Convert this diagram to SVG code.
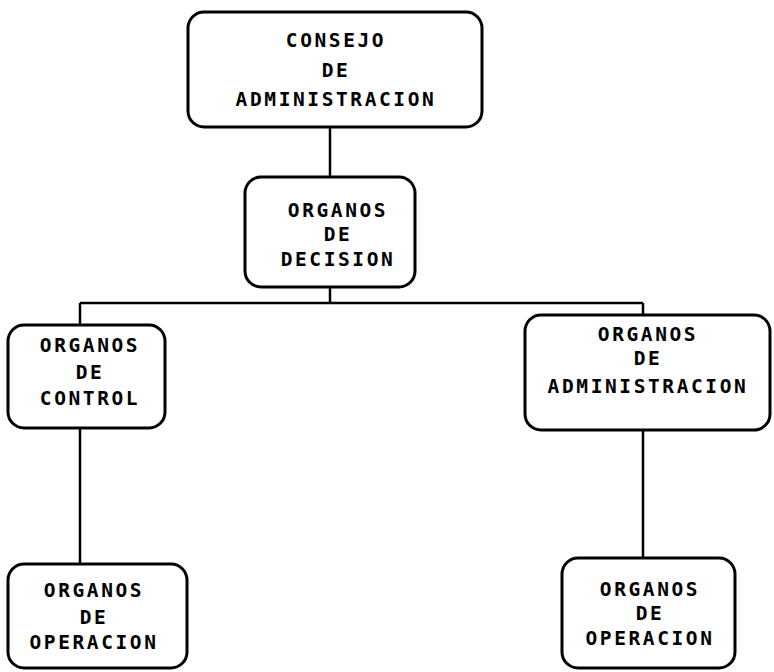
<svg xmlns="http://www.w3.org/2000/svg" width="774" height="672" viewBox="0 0 774 672">
<style>
.box{fill:#fff;stroke:#000;stroke-width:3}
.ln{stroke:#000;stroke-width:2.5;fill:none}
text{font-family:"DejaVu Sans Mono","Liberation Mono",monospace;font-weight:bold;font-size:19.5px;letter-spacing:2.6px;text-anchor:middle;fill:#000}
</style>
<rect width="774" height="672" fill="#fff"/>
<g id="connectors">
<line class="ln" x1="330" y1="127" x2="330" y2="177"/>
<line class="ln" x1="330" y1="287" x2="330" y2="303"/>
<line class="ln" x1="80" y1="303" x2="643" y2="303"/>
<line class="ln" x1="80" y1="303" x2="80" y2="325"/>
<line class="ln" x1="643" y1="303" x2="643" y2="315"/>
<line class="ln" x1="80" y1="428" x2="80" y2="564"/>
<line class="ln" x1="643" y1="430" x2="643" y2="558"/>
</g>
<g id="consejo">
<rect class="box" x="188" y="12" width="294" height="115" rx="16"/>
<text x="336" y="47">CONSEJO</text>
<text x="336" y="77">DE</text>
<text x="336" y="106">ADMINISTRACION</text>
</g>
<g id="decision">
<rect class="box" x="245" y="177" width="170" height="110" rx="16"/>
<text x="338" y="217">ORGANOS</text>
<text x="338" y="241">DE</text>
<text x="338" y="266">DECISION</text>
</g>
<g id="control">
<rect class="box" x="8" y="325" width="157" height="103" rx="16"/>
<text x="90" y="352">ORGANOS</text>
<text x="90" y="379">DE</text>
<text x="90" y="405">CONTROL</text>
</g>
<g id="administracion">
<rect class="box" x="525" y="315" width="245" height="115" rx="16"/>
<text x="648" y="341">ORGANOS</text>
<text x="648" y="365">DE</text>
<text x="648" y="393">ADMINISTRACION</text>
</g>
<g id="operacion-izq">
<rect class="box" x="8" y="564" width="179" height="104" rx="16"/>
<text x="94" y="597">ORGANOS</text>
<text x="94" y="624">DE</text>
<text x="94" y="649">OPERACION</text>
</g>
<g id="operacion-der">
<rect class="box" x="562" y="558" width="173" height="110" rx="16"/>
<text x="650" y="596">ORGANOS</text>
<text x="650" y="620">DE</text>
<text x="650" y="645">OPERACION</text>
</g>
</svg>
